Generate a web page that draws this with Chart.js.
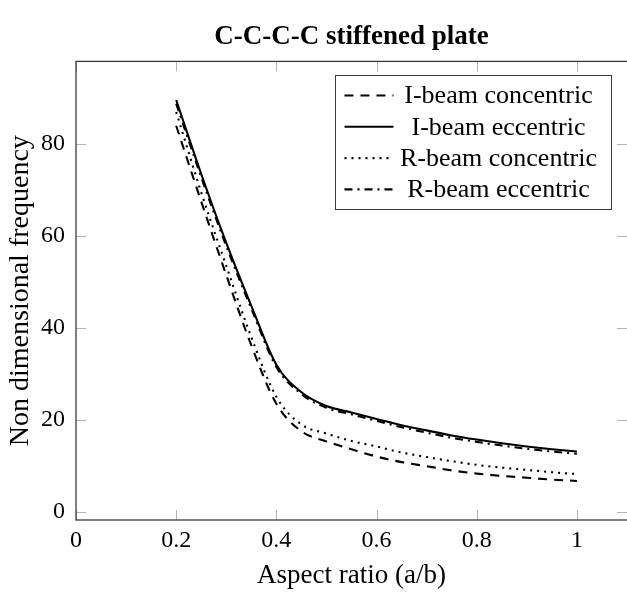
<!DOCTYPE html>
<html>
<head>
<meta charset="utf-8">
<script src="https://cdn.jsdelivr.net/npm/chart.js@4.4.1/dist/chart.umd.min.js"></script>
<style>
  html, body { margin: 0; padding: 0; background: #ffffff; }
</style>
</head>
<body>
<canvas id="freqChart" width="627" height="592"></canvas>
<script>
// Aspect ratio a/b and non dimensional frequency of the four stiffener cases
const aspectRatio = [0.2, 0.25, 0.3, 0.35, 0.4, 0.45, 0.5, 0.55, 0.6, 0.65, 0.7, 0.75, 0.8, 0.85, 0.9, 0.95, 1.0];
const iBeamConcentric = [84.0, 67.5, 51.5, 36.2, 23.5, 17.5, 15.3, 13.6, 12.0, 10.8, 9.9, 9.0, 8.3, 7.8, 7.4, 7.0, 6.7];
const iBeamEccentric = [89.6, 73.5, 58.5, 44.8, 32.0, 26.0, 23.0, 21.6, 20.2, 18.8, 17.7, 16.6, 15.7, 14.9, 14.2, 13.6, 13.1];
const rBeamConcentric = [87.0, 69.5, 53.5, 38.0, 25.0, 19.0, 17.0, 15.4, 14.2, 12.9, 11.9, 11.0, 10.2, 9.6, 9.1, 8.6, 8.2];
const rBeamEccentric = [88.8, 72.8, 57.8, 44.2, 31.5, 25.6, 22.6, 21.2, 19.8, 18.4, 17.2, 16.1, 15.2, 14.4, 13.7, 13.1, 12.6];

const xTicks = [0, 0.2, 0.4, 0.6, 0.8, 1];
const yTicks = [0, 20, 40, 60, 80];

const serif = "'Liberation Serif', 'Times New Roman', serif";
const tickLen = 10;

function toPoints(ys) {
  return ys.map((y, i) => ({ x: aspectRatio[i], y: y }));
}

function series(label, ys, dash) {
  return {
    label: label,
    data: toPoints(ys),
    borderColor: "#000000",
    backgroundColor: "#000000",
    borderWidth: 2.1,
    borderDash: dash,
    pointRadius: 0,
    cubicInterpolationMode: "monotone",
    fill: false,
  };
}

// pgfplots-style box: inner ticks on all sides, frame and a centered legend
const frameAndLegend = {
  id: "frameAndLegend",
  afterDraw(chart) {
    const { ctx, chartArea: a, scales } = chart;
    ctx.save();

    ctx.strokeStyle = "#b4b4b4";
    ctx.lineWidth = 1;
    ctx.beginPath();
    xTicks.forEach((v) => {
      const px = Math.round(scales.x.getPixelForValue(v)) + 0.5;
      ctx.moveTo(px, a.bottom);
      ctx.lineTo(px, a.bottom - tickLen);
      ctx.moveTo(px, a.top);
      ctx.lineTo(px, a.top + tickLen);
    });
    yTicks.forEach((v) => {
      const py = Math.round(scales.y.getPixelForValue(v)) + 0.5;
      ctx.moveTo(a.left, py);
      ctx.lineTo(a.left + tickLen, py);
      ctx.moveTo(a.right, py);
      ctx.lineTo(a.right - tickLen, py);
    });
    ctx.stroke();

    // the right edge of the box sits just past the canvas
    ctx.strokeStyle = "#3a3a3a";
    ctx.lineWidth = 1.3;
    ctx.strokeRect(a.left, a.top, a.right + 1 - a.left, a.bottom - a.top);

    // legend box
    const boxW = 276, boxH = 134;
    const bx = Math.round(a.right - 16 - boxW) + 0.5;
    const by = Math.round(a.top + 14) + 0.5;
    ctx.fillStyle = "#ffffff";
    ctx.fillRect(bx, by, boxW, boxH);
    ctx.strokeStyle = "#3a3a3a";
    ctx.lineWidth = 1;
    ctx.strokeRect(bx, by, boxW, boxH);

    ctx.font = "26px " + serif;
    ctx.textAlign = "center";
    ctx.textBaseline = "middle";
    chart.data.datasets.forEach((ds, i) => {
      const cy = by + 20 + i * 31.3;
      ctx.strokeStyle = ds.borderColor;
      ctx.lineWidth = ds.borderWidth;
      ctx.setLineDash(ds.borderDash || []);
      ctx.beginPath();
      ctx.moveTo(bx + 9, cy);
      ctx.lineTo(bx + 58, cy);
      ctx.stroke();
      ctx.setLineDash([]);
      ctx.fillStyle = "#000000";
      ctx.fillText(ds.label, bx + 163, cy + 1);
    });

    ctx.restore();
  },
};

const ctx = document.getElementById("freqChart").getContext("2d");

const freqChart = new Chart(ctx, {
  type: "line",
  data: {
    datasets: [
      series("I-beam concentric", iBeamConcentric, [9, 7]),
      series("I-beam eccentric", iBeamEccentric, []),
      series("R-beam concentric", rBeamConcentric, [2, 5]),
      series("R-beam eccentric", rBeamEccentric, [8, 5, 2, 5]),
    ],
  },
  options: {
    responsive: false,
    animation: false,
    layout: { padding: 0 },
    plugins: {
      legend: { display: false },
      tooltip: { enabled: false },
      title: {
        display: true,
        fullSize: false,
        text: "C-C-C-C stiffened plate",
        color: "#000000",
        font: { family: serif, size: 27, weight: "bold", lineHeight: 1.2 },
        padding: { top: 21, bottom: 8 },
      },
    },
    scales: {
      x: {
        type: "linear",
        min: 0,
        max: 1.1,
        afterBuildTicks: (scale) => {
          scale.ticks = xTicks.map((v) => ({ value: v }));
        },
        afterFit: (scale) => {
          scale.height = 72;
        },
        grid: { display: false, drawTicks: false },
        border: { display: false },
        ticks: {
          color: "#000000",
          padding: 6,
          maxRotation: 0,
          font: { family: serif, size: 24 },
          callback: (v) => String(v),
        },
        title: {
          display: true,
          text: "Aspect ratio (a/b)",
          color: "#000000",
          font: { family: serif, size: 27, lineHeight: 1.2 },
          padding: { top: 0, bottom: 0 },
        },
      },
      y: {
        type: "linear",
        min: -1.8,
        max: 98,
        afterBuildTicks: (scale) => {
          scale.ticks = yTicks.map((v) => ({ value: v }));
        },
        afterFit: (scale) => {
          scale.width = 76;
        },
        grid: { display: false, drawTicks: false },
        border: { display: false },
        ticks: {
          color: "#000000",
          padding: 11,
          font: { family: serif, size: 24 },
        },
        title: {
          display: true,
          text: "Non dimensional frequency",
          color: "#000000",
          font: { family: serif, size: 28, lineHeight: 1.2 },
          padding: { top: 4, bottom: 0 },
        },
      },
    },
  },
  plugins: [frameAndLegend],
});
</script>
</body>
</html>
